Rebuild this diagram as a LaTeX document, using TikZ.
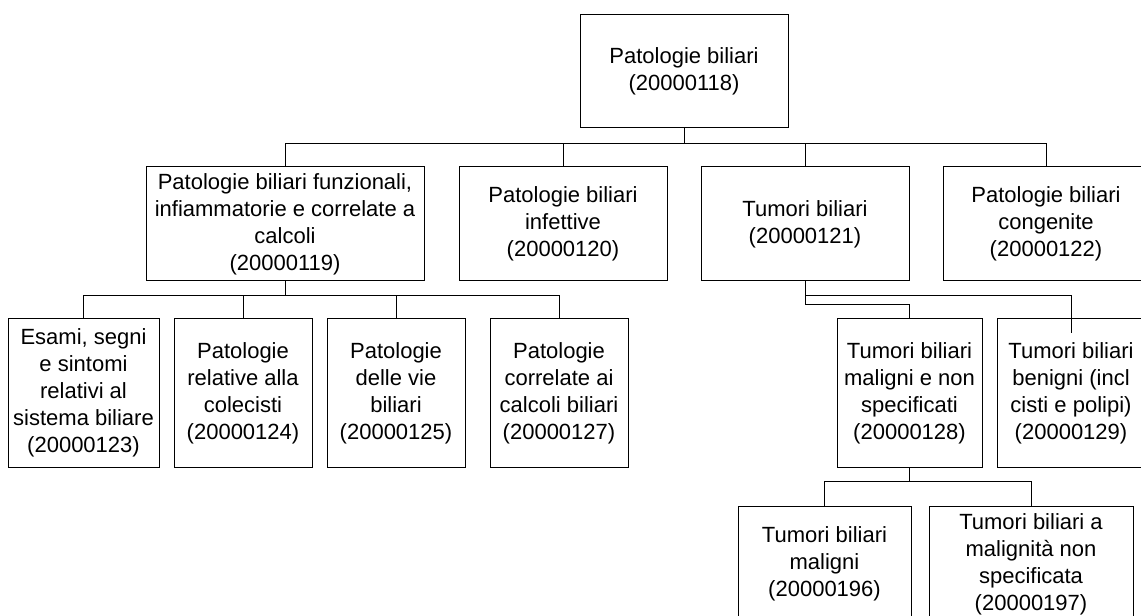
\documentclass[tikz,border=0pt]{standalone}
\usepackage{fontspec}
\setmainfont{Liberation Sans}
\begin{document}
\begin{tikzpicture}[x=0.75pt,y=-0.75pt,line width=0.75pt,
	casella/.style={draw,rectangle,align=center,inner sep=0pt,
		font=\fontsize{16.5}{20.25}\selectfont}]
	\useasboundingbox (0,0) rectangle (1141,616);
	\clip (0,0) rectangle (1141,616);

	\node[casella,minimum width=208*0.75pt,minimum height=113*0.75pt] (radice) at (684,71.5) {Patologie biliari\\(20000118)};

	\node[casella,minimum width=278*0.75pt,minimum height=114*0.75pt] (funz) at (285,224) {Patologie biliari funzionali,\\infiammatorie e correlate a\\calcoli\\(20000119)};
	\node[casella,minimum width=208*0.75pt,minimum height=114*0.75pt] (infett) at (563,224) {Patologie biliari\\infettive\\(20000120)};
	\node[casella,minimum width=208*0.75pt,minimum height=114*0.75pt] (tumori) at (805,224) {Tumori biliari\\(20000121)};
	\node[casella,minimum width=206*0.75pt,minimum height=114*0.75pt] (congen) at (1046,224) {Patologie biliari\\congenite\\(20000122)};

	\node[casella,minimum width=151*0.75pt,minimum height=148*0.75pt] (esami) at (83.5,393) {Esami, segni\\e sintomi\\relativi al\\sistema biliare\\(20000123)};
	\node[casella,minimum width=138*0.75pt,minimum height=148*0.75pt] (colec) at (243,393) {Patologie\\relative alla\\colecisti\\(20000124)};
	\node[casella,minimum width=138*0.75pt,minimum height=148*0.75pt] (vie) at (396,393) {Patologie\\delle vie\\biliari\\(20000125)};
	\node[casella,minimum width=138*0.75pt,minimum height=148*0.75pt] (calcoli) at (559,393) {Patologie\\correlate ai\\calcoli biliari\\(20000127)};

	\node[casella,minimum width=145*0.75pt,minimum height=148*0.75pt] (maligni) at (909.5,393) {Tumori biliari\\maligni e non\\specificati\\(20000128)};
	\node[casella,minimum width=148*0.75pt,minimum height=148*0.75pt] (benigni) at (1071,393) {Tumori biliari\\benigni (incl\\cisti e polipi)\\(20000129)};

	\node[casella,minimum width=173*0.75pt,minimum height=116*0.75pt] (malig) at (824.5,564) {Tumori biliari\\maligni\\(20000196)};
	\node[casella,minimum width=204*0.75pt,minimum height=116*0.75pt] (nonspec) at (1031,564) {Tumori biliari a\\malignità non\\specificata\\(20000197)};

	% primo livello
	\draw (radice.south) -- ++(0,15) coordinate (r1);
	\draw (r1) -| (funz.north);
	\draw (r1) -| (infett.north);
	\draw (r1) -| (tumori.north);
	\draw (r1) -| (congen.north);

	% sotto funz
	\draw (funz.south) -- ++(0,14) coordinate (f1);
	\draw (f1) -| (esami.north);
	\draw (f1) -| (colec.north);
	\draw (f1) -| (vie.north);
	\draw (f1) -| (calcoli.north);

	% sotto tumori
	\draw (tumori.south) -- ++(0,14) coordinate (t1);
	\draw (t1) -| (benigni.north) -- ++(0,14);
	\draw (t1) -- ++(0,9) -| (maligni.north);

	\draw (maligni.south) -- ++(0,14) coordinate (m1);
	\draw (m1) -| (malig.north);
	\draw (m1) -| (nonspec.north);
\end{tikzpicture}
\end{document}
